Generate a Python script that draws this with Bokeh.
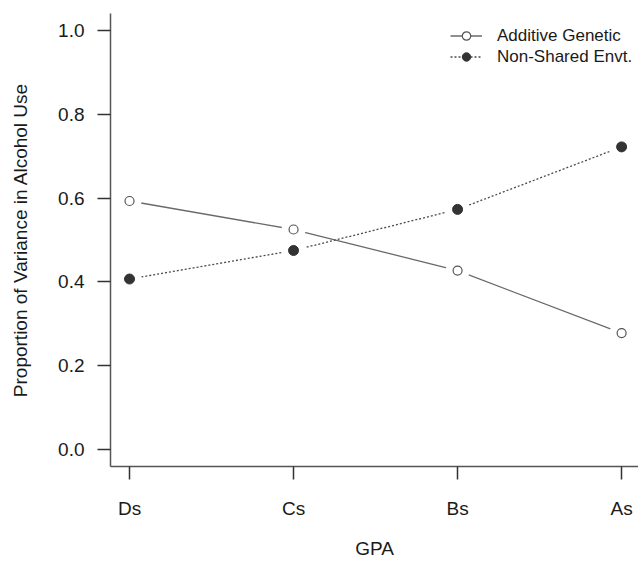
from bokeh.plotting import figure
from bokeh.models import Range1d, FixedTicker, PrintfTickFormatter, Legend, LegendItem, ColumnDataSource
from bokeh.embed import file_html
from bokeh.resources import INLINE

# ---- data ----
categories = ["Ds", "Cs", "Bs", "As"]
additive_genetic = [0.593, 0.525, 0.427, 0.278]
non_shared_envt = [0.407, 0.475, 0.573, 0.722]
y_ticks = [0.0, 0.2, 0.4, 0.6, 0.8, 1.0]

x_pos = list(range(1, len(categories) + 1))
src = ColumnDataSource(dict(x=x_pos, add=additive_genetic, nse=non_shared_envt))

FONT = "Liberation Sans"
TXT = "#1a1a1a"
AX = "#555555"

p = figure(width=638, height=564, output_backend="svg", toolbar_location=None,
           x_range=Range1d(0.884, 4.103), y_range=Range1d(-0.04, 1.04),
           min_border_left=110, min_border_right=0, min_border_top=13, min_border_bottom=98)
p.outline_line_color = None
p.grid.visible = False
p.background_fill_color = "white"
p.border_fill_color = "white"

# axes
for ax in (p.xaxis[0], p.yaxis[0]):
    ax.axis_line_color = AX
    ax.axis_line_width = 1.5
    ax.major_tick_line_color = "#333333"
    ax.major_tick_line_width = 1.5
    ax.major_tick_in = 0
    ax.major_tick_out = 13
    ax.minor_tick_line_color = None
    ax.major_label_text_font = FONT
    ax.major_label_text_font_size = "19px"
    ax.major_label_text_color = TXT
    ax.axis_label_text_font = FONT
    ax.axis_label_text_font_size = "19px"
    ax.axis_label_text_font_style = "normal"
    ax.axis_label_text_color = TXT

p.yaxis.ticker = FixedTicker(ticks=y_ticks)
p.yaxis.formatter = PrintfTickFormatter(format="%.1f")
p.yaxis.major_label_standoff = 13
p.yaxis.axis_label = "Proportion of Variance in Alcohol Use"
p.yaxis.axis_label_standoff = 24

p.xaxis.ticker = FixedTicker(ticks=x_pos)
p.xaxis.major_label_overrides = {x: c for x, c in zip(x_pos, categories)}
p.xaxis.major_label_standoff = 18
p.xaxis.axis_label = "GPA"
p.xaxis.axis_label_standoff = 16

# series: Additive Genetic (solid, open circles)
l1 = p.line("x", "add", source=src, line_color="#6a6a6a", line_width=1.3)
m1 = p.scatter("x", "add", source=src, marker="circle", size=24, fill_color="white", line_color=None)
c1 = p.scatter("x", "add", source=src, marker="circle", size=9, fill_color="white",
               line_color="#555555", line_width=1.2)

# series: Non-Shared Envt. (dotted, filled circles)
l2 = p.line("x", "nse", source=src, line_color="#4a4a4a", line_width=1.3, line_dash="2 2")
m2 = p.scatter("x", "nse", source=src, marker="circle", size=24, fill_color="white", line_color=None)
c2 = p.scatter("x", "nse", source=src, marker="circle", size=10, fill_color="#333333",
               line_color="#333333")

legend = Legend(items=[
    LegendItem(label="Additive Genetic", renderers=[l1, c1]),
    LegendItem(label="Non-Shared Envt.", renderers=[l2, c2]),
], location=(340, 399))
legend.border_line_color = None
legend.background_fill_alpha = 0
legend.padding = 0
legend.margin = 0
legend.spacing = 0
legend.glyph_width = 32
legend.glyph_height = 21
legend.label_standoff = 15
legend.label_text_font = FONT
legend.label_text_font_size = "17px"
legend.label_text_color = TXT
p.add_layout(legend)

open("out.html", "w").write(file_html(p, INLINE))
